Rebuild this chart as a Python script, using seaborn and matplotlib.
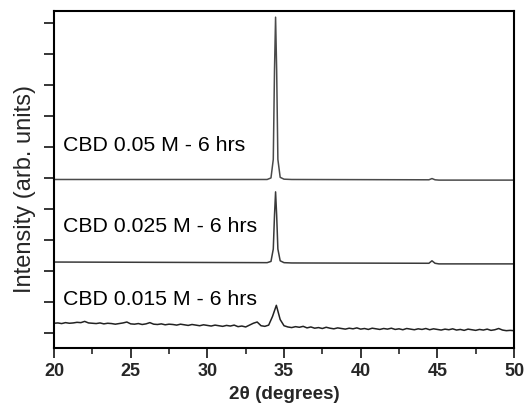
"""
plot.py

XRD patterns of CBD films (three concentrations, 6 hrs), stacked with offsets.
"""

import numpy as np
import pandas as pd
import matplotlib
matplotlib.use("Agg")
import matplotlib.pyplot as plt
from matplotlib.ticker import MultipleLocator
import seaborn as sns

#data (y in stacked arb. units)
top_2theta = [20, 33.9, 34.15, 34.3, 34.38, 34.45, 34.52, 34.6, 34.75, 35.0, 35.5,
              44.45, 44.65, 44.85, 45.1, 50]
top_intensity = [4.95, 4.95, 5.0, 5.6, 8.5, 10.2, 8.5, 5.6, 5.02, 4.96, 4.95,
                 4.94, 4.98, 4.94, 4.93, 4.93]

mid_2theta = [20, 33.9, 34.15, 34.3, 34.38, 34.45, 34.52, 34.6, 34.75, 35.0, 35.5,
              44.45, 44.65, 44.85, 45.1, 50]
mid_intensity = [2.28, 2.26, 2.3, 2.7, 3.8, 4.55, 3.8, 2.7, 2.32, 2.26, 2.25,
                 2.24, 2.32, 2.24, 2.22, 2.22]

#bottom pattern sampled every 0.25 deg from 20 to 50
low_intensity = [
    0.30, 0.31, 0.29, 0.32, 0.30, 0.31, 0.33, 0.32,   # 20-21.75
    0.36, 0.31, 0.30, 0.29, 0.31, 0.28, 0.30, 0.29,   # 22-23.75
    0.27, 0.29, 0.31, 0.34, 0.28, 0.27, 0.29, 0.26,   # 24-25.75
    0.28, 0.32, 0.27, 0.26, 0.28, 0.25, 0.27, 0.26,   # 26-27.75
    0.24, 0.27, 0.25, 0.23, 0.26, 0.24, 0.22, 0.25,   # 28-29.75
    0.23, 0.21, 0.24, 0.22, 0.20, 0.23, 0.21, 0.24,   # 30-31.75
    0.19, 0.21, 0.18, 0.24, 0.30, 0.34, 0.22, 0.20,   # 32-33.75
    0.24, 0.52, 0.88, 0.42, 0.22, 0.18, 0.16, 0.19,   # 34-35.75
    0.17, 0.20, 0.15, 0.18, 0.14, 0.16, 0.13, 0.17,   # 36-37.75
    0.14, 0.12, 0.15, 0.13, 0.11, 0.14, 0.12, 0.15,   # 38-39.75
    0.11, 0.13, 0.10, 0.14, 0.12, 0.10, 0.13, 0.11,   # 40-41.75
    0.14, 0.10, 0.12, 0.09, 0.13, 0.11, 0.09, 0.12,   # 42-43.75
    0.10, 0.13, 0.09, 0.12, 0.10, 0.08, 0.11, 0.09,   # 44-45.75
    0.12, 0.08, 0.10, 0.07, 0.11, 0.09, 0.07, 0.10,   # 46-47.75
    0.08, 0.11, 0.07, 0.09, 0.13, 0.08, 0.06, 0.07,   # 48-49.75
    0.06,                                             # 50
]
low_2theta = np.linspace(20, 50, len(low_intensity))

labels = ["CBD 0.05 M - 6 hrs", "CBD 0.025 M - 6 hrs", "CBD 0.015 M - 6 hrs"]
label_y = [6.06, 3.42, 1.06]

#style
sns.set_theme(style="ticks")
plt.rcParams["font.family"] = ["Liberation Sans", "DejaVu Sans"]

fig = plt.figure(figsize=(5.28, 4.07), dpi=100)
ax = fig.add_axes([0.1023, 0.145, 0.8712, 0.828])

traces = [
    (top_2theta, top_intensity, "#4a4a4a"),
    (mid_2theta, mid_intensity, "#3a3a3a"),
    (low_2theta, low_intensity, "#222222"),
]
for xs, ys, col in traces:
    df = pd.DataFrame({"two_theta": xs, "intensity": ys})
    sns.lineplot(data=df, x="two_theta", y="intensity", ax=ax,
                 color=col, linewidth=1.1, sort=False, estimator=None)

for txt, yy in zip(labels, label_y):
    ax.text(20.6, yy, txt, fontsize=15.3, va="center", ha="left", color="black")

ax.set_xlim(20, 50)
ax.set_ylim(-0.5, 10.4)
ax.xaxis.set_major_locator(MultipleLocator(5))
ax.xaxis.set_minor_locator(MultipleLocator(2.5))
ax.yaxis.set_major_locator(MultipleLocator(1))
ax.set_yticklabels([])

ax.tick_params(axis="x", which="major", direction="out", length=7, width=1.3,
               labelsize=13, pad=4)
ax.tick_params(axis="x", which="minor", direction="out", length=4, width=1.2)
ax.tick_params(axis="y", which="major", direction="out", length=7, width=1.3,
               labelleft=False)
for lab in ax.get_xticklabels():
    lab.set_fontweight("bold")

for side in ["left", "right", "top", "bottom"]:
    ax.spines[side].set_visible(True)
    ax.spines[side].set_linewidth(1.5)
    ax.spines[side].set_color("black")

ax.set_xlabel("2θ (degrees)", fontsize=13.6, fontweight="bold", labelpad=4)
ax.set_ylabel("Intensity (arb. units)", fontsize=17)
ax.yaxis.set_label_coords(-0.039, 0.472)

fig.savefig("out.png", dpi=100)
